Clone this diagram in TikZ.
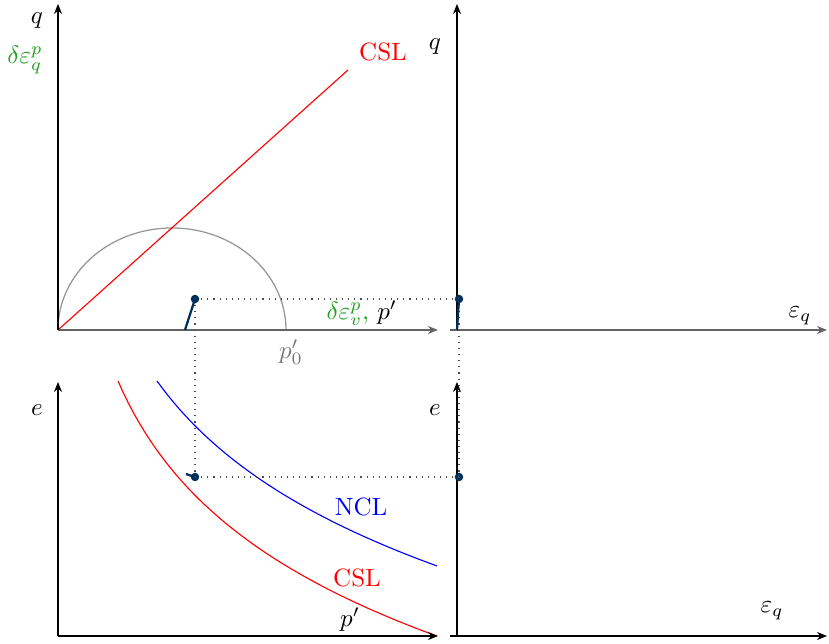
\documentclass[tikz,border=0pt]{standalone}
\usetikzlibrary{arrows.meta}
\definecolor{ptblue}{RGB}{0,48,90}
\definecolor{axgray}{RGB}{100,100,100}
\definecolor{arcgray}{RGB}{150,150,150}
\definecolor{incgreen}{RGB}{30,160,30}
\tikzset{
  axis/.style={-{Stealth[length=4pt,width=3.2pt]}, black, line width=0.45pt},
  gaxis/.style={-{Stealth[length=4pt,width=3.2pt]}, axgray, line width=0.6pt},
  pathseg/.style={ptblue, line width=0.9pt},
  ptdot/.style={circle, fill=ptblue, inner sep=0pt, minimum size=3.4pt},
  guide/.style={dotted, black!70, line width=0.45pt},
  lbl/.style={inner sep=1pt}
}
\begin{document}
\begin{tikzpicture}[x=0.4pt,y=-0.4pt]
\useasboundingbox (0,0) rectangle (829,644);
% axes coordinates
\coordinate (O1) at (58,330);
\coordinate (Y1) at (58,4);
\coordinate (X1) at (438,330);
\coordinate (O2) at (58,636);
\coordinate (Y2) at (58,382);
\coordinate (X2) at (438,636);
\coordinate (O3) at (457,330);
\coordinate (S3) at (450,330);
\coordinate (Y3) at (457,4);
\coordinate (X3) at (827,330);
\coordinate (O4) at (457,636);
\coordinate (S4) at (450,636);
\coordinate (Y4) at (457,382);
\coordinate (X4) at (827,636);
% top-left
\draw[arcgray, line width=0.5pt] (O1) arc[start angle=180,end angle=0,x radius=45.6pt,y radius=40.8pt];
\coordinate (C1) at (348,70);
\draw[red, line width=0.45pt] (O1) -- (C1);
\draw[gaxis] (O1) -- (X1);
\draw[axis] (O1) -- (Y1);
% bottom-left curves
\draw[red, line width=0.45pt] plot[domain=118:437, samples=60] ({\x},{381+138.4*ln((\x-58)/60)});
\draw[blue, line width=0.45pt] plot[domain=157:437, samples=60] ({\x},{381+137.8*ln((\x-58)/99)});
\draw[axis] (O2) -- (X2);
\draw[axis] (O2) -- (Y2);
% right axes
\draw[gaxis] (S3) -- (X3);
\draw[axis] (O3) -- (Y3);
\draw[axis] (S4) -- (X4);
\draw[axis] (O4) -- (Y4);
% points and guides
\node[ptdot] (P1) at (195,299) {};
\node[ptdot] (P2) at (459,299) {};
\node[ptdot] (P3) at (195,477) {};
\node[ptdot] (P4) at (459,477) {};
\coordinate (A1) at (185,330);
\coordinate (A2) at (457,330);
\coordinate (A3) at (186,474);
\draw[guide] (P1.center) -- (P2.center);
\draw[guide] (P1.center) -- (P3.center);
\draw[guide] (P3.center) -- (P4.center);
\draw[guide] (P2.center) -- (P4.center);
\draw[pathseg] (A1) -- (P1.center);
\draw[pathseg] (A2) -- (P2.center);
\draw[pathseg] (A3) -- (P3.center);
% labels
\node[lbl] (lq1) at (37,21) {$q$};
\node[lbl, text=incgreen] (lde1) at (25,60) {$\delta\varepsilon^p_q$};
\node[lbl] (lq2) at (435,47) {$q$};
\node[lbl, anchor=east] (lpv) at (400,313) {\textcolor{incgreen}{$\delta\varepsilon^p_v$,} $p'$};
\node[lbl] (leq1) at (800,316) {$\varepsilon_q$};
\node[lbl] (leq2) at (772,611) {$\varepsilon_q$};
\node[lbl] (le1) at (37,410) {$e$};
\node[lbl] (le2) at (435,410) {$e$};
\node[lbl, text=arcgray!80!black] (lp0) at (291,352) {$p'_0$};
\node[lbl, text=red] (lcsl1) at (383,52) {CSL};
\node[lbl, text=blue] (lncl) at (361,507) {NCL};
\node[lbl, text=red] (lcsl2) at (357,578) {CSL};
\node[lbl] (lp2) at (350,620) {$p'$};
\end{tikzpicture}
\end{document}
